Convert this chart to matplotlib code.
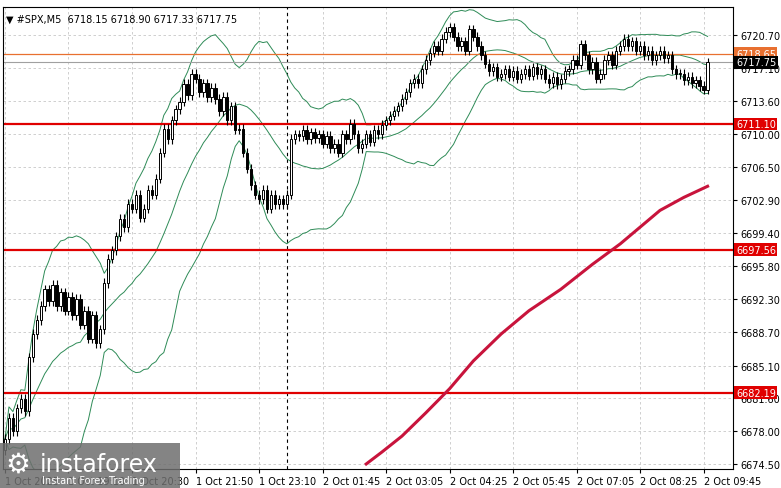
import numpy as np
import matplotlib
matplotlib.use("Agg")
import matplotlib.pyplot as plt
import matplotlib.transforms as mtrans
from matplotlib.patches import Rectangle

closes = [
6677.2, 6679.5, 6678.0, 6680.5, 6681.5, 6680.2, 6686.0, 6688.5, 6690.0, 6691.5,
6693.3, 6692.0, 6693.8, 6691.5, 6693.0, 6691.0, 6692.5, 6690.5, 6692.3, 6689.5,
6691.0, 6688.0, 6690.5, 6687.5, 6689.0, 6694.0, 6696.6, 6697.5, 6699.0, 6700.9,
6700.0, 6702.5, 6702.0, 6703.5, 6701.0, 6702.0, 6704.0, 6703.5, 6705.2, 6708.0,
6710.6, 6709.5, 6711.5, 6712.7, 6713.5, 6715.4, 6714.2, 6716.5, 6716.0, 6714.5,
6715.5, 6714.0, 6715.0, 6713.8, 6712.5, 6714.0, 6711.5, 6713.0, 6710.5, 6710.6,
6708.0, 6706.3, 6704.5, 6703.5, 6703.0, 6704.0, 6702.0, 6703.5, 6702.5, 6703.0,
6702.5, 6703.5, 6709.5, 6710.0, 6709.8, 6710.5, 6709.5, 6710.2, 6709.6, 6710.0,
6709.0, 6709.8, 6708.5, 6709.0, 6708.0, 6710.0, 6709.5, 6711.1, 6710.0, 6708.5,
6709.0, 6710.0, 6709.2, 6710.5, 6710.0, 6711.0, 6711.5, 6712.0, 6712.5, 6713.0,
6713.8, 6714.5, 6715.5, 6716.0, 6715.5, 6717.0, 6718.0, 6718.8, 6719.5, 6719.0,
6720.3, 6721.0, 6721.5, 6720.5, 6719.5, 6720.0, 6719.0, 6721.3, 6720.5, 6719.5,
6718.5, 6717.6, 6716.8, 6717.2, 6716.2, 6716.5, 6717.0, 6716.2, 6716.8, 6716.0,
6716.5, 6717.0, 6716.3, 6717.2, 6716.5, 6717.0, 6716.0, 6715.5, 6716.2, 6715.4,
6716.0, 6716.8, 6717.0, 6718.0, 6717.5, 6719.7, 6718.5, 6717.0, 6717.8, 6716.0,
6716.5, 6718.0, 6718.5, 6717.5, 6719.0, 6719.5, 6720.3, 6719.5, 6720.0, 6719.0,
6719.5, 6718.5, 6719.0, 6718.0, 6718.5, 6719.0, 6718.2, 6718.5, 6717.0, 6716.5,
6716.5, 6715.8, 6716.2, 6715.5, 6715.8, 6715.2, 6714.8, 6717.75]
first_open = 6676.0
ma_idx = [91, 95, 100, 106, 112, 118, 125, 132, 140, 148, 155, 160, 165, 171, 177]
ma_val = [6674.5, 6675.8, 6677.5, 6680.0, 6682.6, 6685.6, 6688.5, 6691.0, 6693.3,
          6696.0, 6698.2, 6700.0, 6701.8, 6703.2, 6704.4]
levels = [6711.10, 6697.56, 6682.19]
ask_level = 6718.65
bid_level = 6717.75
yticks = [6720.70, 6717.10, 6713.60, 6710.00, 6706.50, 6702.90, 6699.40, 6695.80,
          6692.30, 6688.70, 6685.10, 6681.60, 6678.00, 6674.50]
xtick_labels = ["1 Oct 2025", "1 Oct 19:10", "1 Oct 20:30", "1 Oct 21:50", "1 Oct 23:10",
                "2 Oct 01:45", "2 Oct 03:05", "2 Oct 04:25", "2 Oct 05:45", "2 Oct 07:05",
                "2 Oct 08:25", "2 Oct 09:45"]

c = np.array(closes)
o = np.concatenate([[first_open], c[:-1]])
h = np.maximum(o, c) + 0.5
l = np.minimum(o, c) - 0.5
n = len(c)
idx = np.arange(n)

fig = plt.figure(figsize=(7.81, 4.89), dpi=100)
ax = fig.add_axes([3/781, 19/489, 730/781, 462/489])
ax.set_xlim(-0.5, 183.4)
ax.set_ylim(6673.96, 6723.7)

for t in yticks:
    ax.axhline(t, color="#c8c8c8", lw=0.6, ls=(0, (3, 3)), zorder=0)
xt = [i * 16 for i in range(len(xtick_labels))]
for t in xt:
    ax.axvline(t, color="#c8c8c8", lw=0.6, ls=(0, (3, 3)), zorder=0)
ax.axvline(71, color="black", lw=0.8, ls=(0, (3, 3)), zorder=1)

mid = np.array([c[max(0, i-19):i+1].mean() for i in idx])
sd = np.array([c[max(0, i-19):i+1].std() for i in idx])
for arr in (mid, mid + 2*sd, mid - 2*sd):
    ax.plot(idx, arr, color="#2e8b57", lw=0.7, zorder=2)

w = 0.6
for i in idx:
    ax.vlines(i, l[i], h[i], color="black", lw=0.8, zorder=3)
    bull = c[i] >= o[i]
    ax.add_patch(Rectangle((i - w/2, min(o[i], c[i])), w, max(abs(c[i]-o[i]), 0.05),
                           facecolor="white" if bull else "black", edgecolor="black", lw=0.7, zorder=4))

ax.plot(ma_idx, ma_val, color="#c8143c", lw=2.2, zorder=3)

for lv in levels:
    ax.axhline(lv, color="#e00000", lw=1.6, zorder=2)
ax.axhline(ask_level, color="#e87030", lw=0.9, zorder=2)
ax.axhline(bid_level, color="#a0a0a0", lw=0.8, zorder=2)

ax.yaxis.tick_right()
ax.set_yticks(yticks)
ax.set_yticklabels([f"{t:.2f}" for t in yticks], fontsize=7)
ax.set_xticks(xt)
ax.set_xticklabels(xtick_labels, fontsize=7, ha="left")
ax.tick_params(length=3, pad=2)
for s in ax.spines.values():
    s.set_linewidth(0.8)

tr = mtrans.blended_transform_factory(ax.transAxes, ax.transData)
def tag(y, txt, fc, tc="white"):
    ax.text(1.004, y, txt, transform=tr, fontsize=7, color=tc, va="center", ha="left",
            bbox=dict(boxstyle="square,pad=0.15", fc=fc, ec="none"), zorder=10, clip_on=False)
for lv in levels:
    tag(lv, f"{lv:.2f}", "#e00000")
tag(ask_level, f"{ask_level:.2f}", "#e87030")
tag(bid_level, f"{bid_level:.2f}", "black")

ax.text(0.004, 0.985, "▼ #SPX,M5  6718.15 6718.90 6717.33 6717.75", transform=ax.transAxes,
        fontsize=7, va="top", ha="left")

fig.patches.append(Rectangle((0, 0), 180/781, 45/489, transform=fig.transFigure,
                             facecolor="#6e6e6e", alpha=0.85, zorder=20))
fig.text(40/781, 24/489, "instaforex", fontsize=17, color="white", va="center", ha="left", zorder=21)
fig.text(42/781, 8/489, "Instant Forex Trading", fontsize=7, color="white", va="center", ha="left", zorder=21)
fig.text(18/781, 24/489, "⚙", fontsize=20, color="white", va="center", ha="center", zorder=21)

fig.savefig("out.png", dpi=100)
